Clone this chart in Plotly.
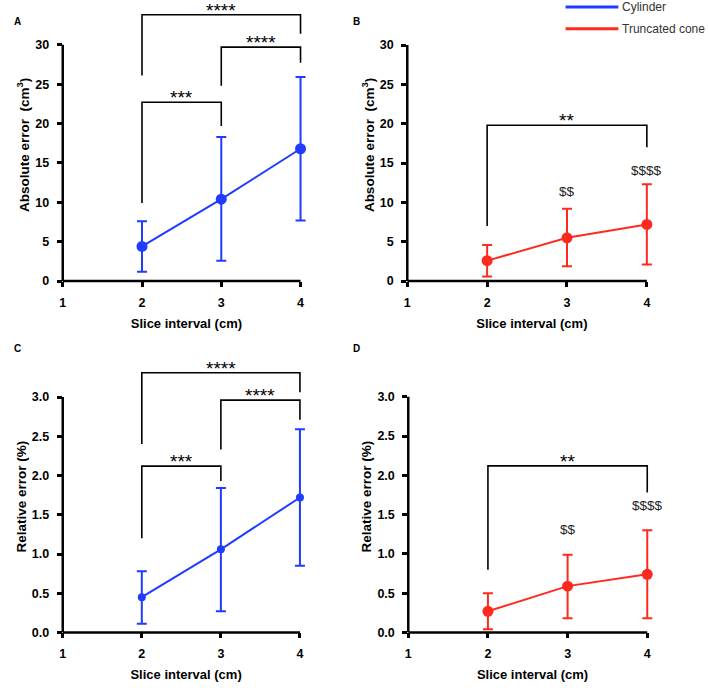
import plotly.graph_objects as go

# ---------------- data ----------------
slice_interval = [2, 3, 4]

abs_cyl_mean = [4.4, 10.4, 16.8]
abs_cyl_lo = [1.2, 2.6, 7.7]
abs_cyl_hi = [7.6, 18.3, 25.9]

abs_cone_mean = [2.6, 5.5, 7.2]
abs_cone_lo = [0.6, 1.9, 2.1]
abs_cone_hi = [4.6, 9.2, 12.3]

rel_cyl_mean = [0.45, 1.06, 1.72]
rel_cyl_lo = [0.11, 0.27, 0.85]
rel_cyl_hi = [0.78, 1.84, 2.59]

rel_cone_mean = [0.27, 0.59, 0.74]
rel_cone_lo = [0.04, 0.18, 0.18]
rel_cone_hi = [0.50, 0.99, 1.30]

x_ticks = [1, 2, 3, 4]
abs_ticks = [0, 5, 10, 15, 20, 25, 30]
rel_ticks = [0.0, 0.5, 1.0, 1.5, 2.0, 2.5, 3.0]
rel_tick_text = ["0.0", "0.5", "1.0", "1.5", "2.0", "2.5", "3.0"]

# significance brackets: (x_left, x_right, y_left_leg_bottom, y_top, y_right_leg_bottom, label)
brackets_A = [(2, 3, 9.9, 22.7, 19.7, "***"),
              (3, 4, 24.8, 29.7, 27.7, "****"),
              (2, 4, 26.1, 33.8, 31.4, "****")]
brackets_B = [(2, 4, 7.0, 19.8, 17.0, "**")]
brackets_C = [(2, 3, 1.20, 2.12, 1.93, "***"),
              (3, 4, 2.33, 2.96, 2.71, "****"),
              (2, 4, 2.40, 3.31, 3.06, "****")]
brackets_D = [(2, 4, 0.80, 2.12, 1.78, "**")]

dollars_B = [(3, 11.4, "$$"), (4, 14.1, "$$$$")]
dollars_D = [(3, 1.31, "$$"), (4, 1.62, "$$$$")]

BLUE = "#1f3cff"
RED = "#ff2a1f"
FONT = "Liberation Sans, Arial, sans-serif"
W, H = 708, 688

fig = go.Figure()


def xdom(px_at1, per_unit, xmax):
    return [px_at1 / W, (px_at1 + (xmax - 1) * per_unit) / W]


def ydom(px_at0, per_unit, ymax):
    return [1 - px_at0 / H, 1 - (px_at0 - ymax * per_unit) / H]


panels = [
    dict(xa="x", ya="y", mean=abs_cyl_mean, lo=abs_cyl_lo, hi=abs_cyl_hi, color=BLUE, ms=11,
         br=brackets_A, dl=[], tv=abs_ticks, tt=[str(t) for t in abs_ticks],
         title="<b>Absolute error  (cm<sup>3</sup>)</b>", ymax=34.6,
         xd=xdom(60, 79.6, 4.12), yd=ydom(284, 7.96, 34.6), letter="A", lp=(15, 22), ytop=30),
    dict(xa="x2", ya="y2", mean=abs_cone_mean, lo=abs_cone_lo, hi=abs_cone_hi, color=RED, ms=11,
         br=brackets_B, dl=dollars_B, tv=abs_ticks, tt=[str(t) for t in abs_ticks],
         title="<b>Absolute error  (cm<sup>3</sup>)</b>", ymax=34.6,
         xd=xdom(406, 80.2, 4.12), yd=ydom(284, 7.95, 34.6), letter="B", lp=(355, 22), ytop=30),
    dict(xa="x3", ya="y3", mean=rel_cyl_mean, lo=rel_cyl_lo, hi=rel_cyl_hi, color=BLUE, ms=8,
         br=brackets_C, dl=[], tv=rel_ticks, tt=rel_tick_text,
         title="<b>Relative error (%)</b>", ymax=3.46,
         xd=xdom(60, 79.4, 4.12), yd=ydom(639, 79.3, 3.46), letter="C", lp=(15, 352), ytop=3.0),
    dict(xa="x4", ya="y4", mean=rel_cone_mean, lo=rel_cone_lo, hi=rel_cone_hi, color=RED, ms=11,
         br=brackets_D, dl=dollars_D, tv=rel_ticks, tt=rel_tick_text,
         title="<b>Relative error (%)</b>", ymax=3.46,
         xd=xdom(407, 80.0, 4.12), yd=ydom(639, 79.4, 3.46), letter="D", lp=(355, 352), ytop=3.0),
]

annotations = []
shapes = []
layout = {}

for i, p in enumerate(panels):
    err_plus = [h - m for h, m in zip(p["hi"], p["mean"])]
    err_minus = [m - l for m, l in zip(p["mean"], p["lo"])]
    fig.add_trace(go.Scatter(
        x=slice_interval, y=p["mean"], xaxis=p["xa"], yaxis=p["ya"],
        mode="lines+markers", showlegend=False, cliponaxis=False,
        line=dict(color=p["color"], width=2),
        marker=dict(color=p["color"], size=p["ms"]),
        error_y=dict(type="data", symmetric=False, array=err_plus, arrayminus=err_minus,
                     color=p["color"], thickness=2, width=5),
    ))
    for (xl, xr, yl, yt, yr, lab) in p["br"]:
        fig.add_trace(go.Scatter(
            x=[xl, xl, xr, xr], y=[yl, yt, yt, yr], xaxis=p["xa"], yaxis=p["ya"],
            mode="lines", showlegend=False, cliponaxis=False,
            line=dict(color="black", width=1.6),
        ))
        annotations.append(dict(x=(xl + xr) / 2, y=yt, xref=p["xa"], yref=p["ya"],
                                text=lab, showarrow=False, yanchor="bottom", yshift=-8,
                                font=dict(family=FONT, size=19, color="black")))
    for (xx, yy, lab) in p["dl"]:
        annotations.append(dict(x=xx, y=yy, xref=p["xa"], yref=p["ya"], text=lab,
                                showarrow=False, yanchor="middle",
                                font=dict(family=FONT, size=13.5, color="#222")))
    # axis lines
    shapes.append(dict(type="line", xref=p["xa"] + " domain", yref=p["ya"],
                       x0=0, x1=0, y0=0, y1=p["ytop"], line=dict(color="black", width=2.5)))
    shapes.append(dict(type="line", xref=p["xa"], yref=p["ya"] + " domain",
                       x0=1, x1=4, y0=0, y1=0, line=dict(color="black", width=2.5)))
    # panel letter
    annotations.append(dict(x=p["lp"][0] / W, y=1 - p["lp"][1] / H, xref="paper", yref="paper",
                            text="<b>" + p["letter"] + "</b>", showarrow=False,
                            xanchor="center", yanchor="middle",
                            font=dict(family=FONT, size=10, color="black")))
    xname = "xaxis" if i == 0 else f"xaxis{i+1}"
    yname = "yaxis" if i == 0 else f"yaxis{i+1}"
    layout[xname] = dict(domain=p["xd"], range=[1, 4.12], anchor=p["ya"],
                         tickvals=x_ticks, ticktext=[str(t) for t in x_ticks],
                         ticks="outside", ticklen=5, tickwidth=2.5, tickcolor="black",
                         ticklabelstandoff=5,
                         showline=False, showgrid=False, zeroline=False,
                         tickfont=dict(family=FONT, size=12.5, color="black", weight="bold"),
                         title=dict(text="<b>Slice interval (cm)</b>", standoff=9,
                                    font=dict(family=FONT, size=13, color="black")))
    layout[yname] = dict(domain=p["yd"], range=[0, p["ymax"]], anchor=p["xa"],
                         tickvals=p["tv"], ticktext=p["tt"],
                         ticks="outside", ticklen=5, tickwidth=2.5, tickcolor="black",
                         ticklabelstandoff=5,
                         showline=False, showgrid=False, zeroline=False,
                         tickfont=dict(family=FONT, size=12.5, color="black", weight="bold"),
                         title=dict(text=p["title"], standoff=2,
                                    font=dict(family=FONT, size=13.5, color="black")))

# legend (manual)
legend_items = [("Cylinder", BLUE, 7), ("Truncated cone", RED, 29)]
for name, col, ypx in legend_items:
    shapes.append(dict(type="line", xref="paper", yref="paper",
                       x0=565 / W, x1=618 / W, y0=1 - ypx / H, y1=1 - ypx / H,
                       line=dict(color=col, width=3)))
    annotations.append(dict(x=620 / W, y=1 - ypx / H, xref="paper", yref="paper",
                            text=name, showarrow=False, xanchor="left", yanchor="middle",
                            font=dict(family=FONT, size=12, color="#333")))

fig.update_layout(
    width=W, height=H,
    margin=dict(l=0, r=0, t=0, b=0),
    paper_bgcolor="white", plot_bgcolor="white",
    showlegend=False,
    annotations=annotations, shapes=shapes,
    **layout,
)

post = (
    "document.documentElement.style.margin='0';"
    "document.documentElement.style.overflow='hidden';"
    "document.body.style.margin='0';"
    "document.body.style.overflow='hidden';"
    "var d=document.getElementById('{plot_id}');"
    "d.style.display='block';"
    "if(d.parentElement){d.parentElement.style.height='688px';d.parentElement.style.overflow='hidden';}"
)
fig.write_html("out.html", post_script=post, config={"displayModeBar": False})
